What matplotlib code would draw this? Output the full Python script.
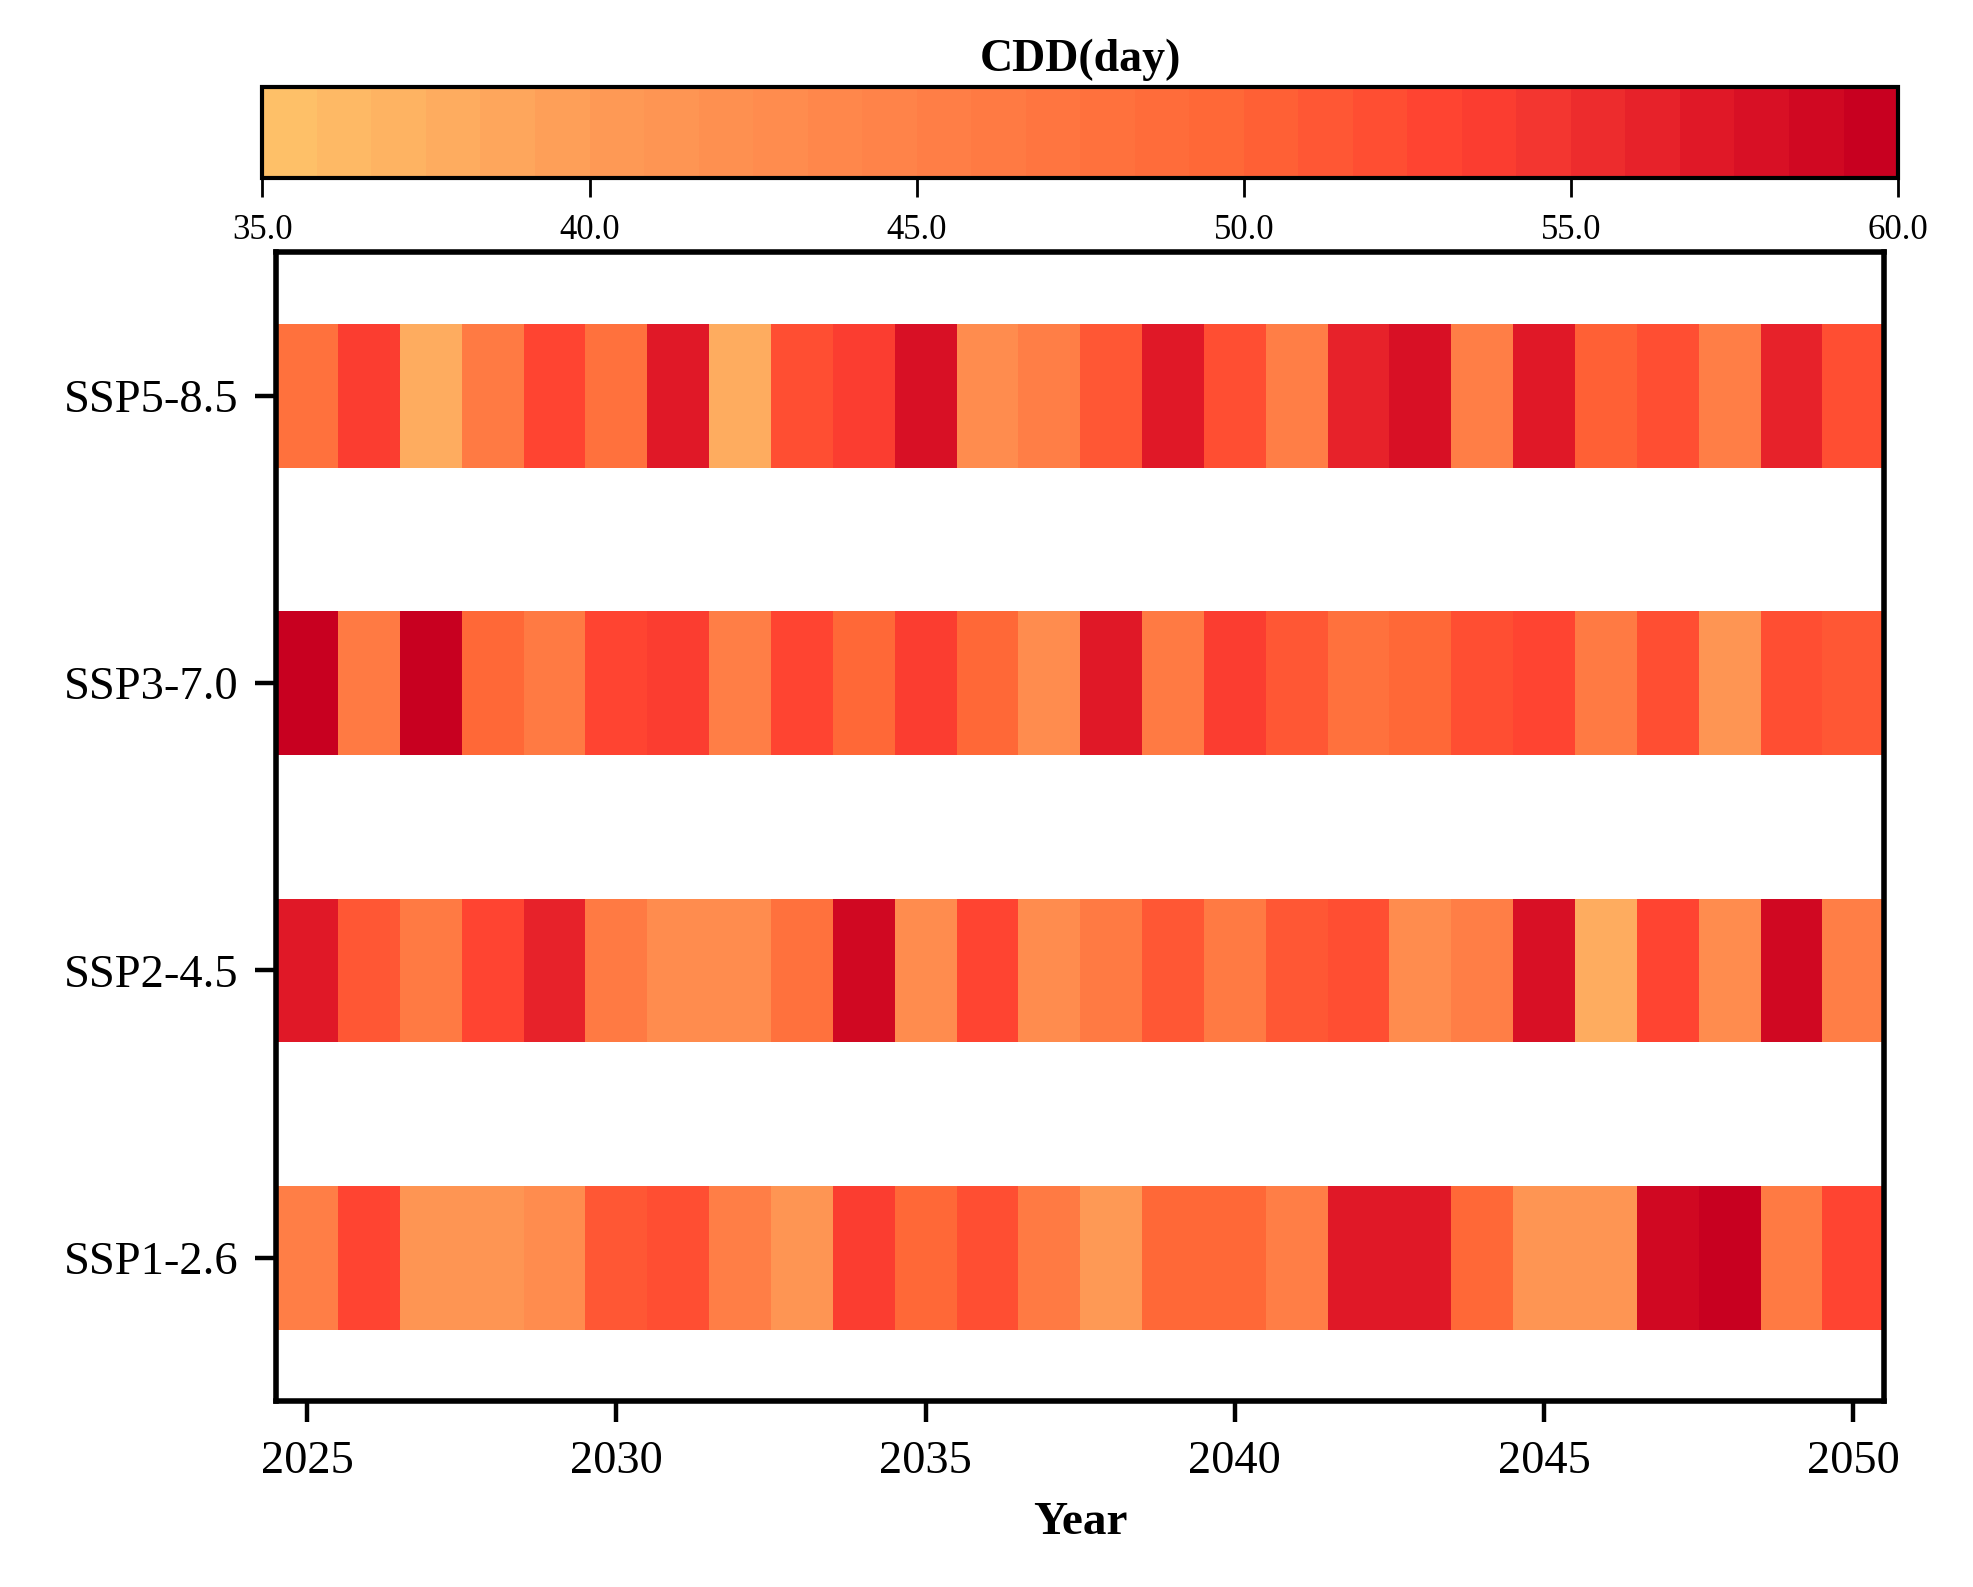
import numpy as np
import matplotlib
matplotlib.use("Agg")
from matplotlib import pyplot as plt
from matplotlib.colors import LinearSegmentedColormap, Normalize

plt.rcParams['font.family'] = ['Liberation Serif', 'DejaVu Serif']

years = np.arange(2025, 2051)
scenarios = ['SSP1-2.6', 'SSP2-4.5', 'SSP3-7.0', 'SSP5-8.5']

# CDD values (day), 2025..2050
ssp126 = [45, 53, 41, 41.5, 42.5, 51, 52, 45, 41.5, 54, 49.5, 52, 46, 40.5,
          49.5, 49.5, 45, 57, 57, 49.5, 41, 41, 58.8, 59.5, 46, 53]
ssp245 = [57, 51, 46.5, 53, 56, 46.5, 42.5, 42.5, 48, 58.8, 42.5, 53, 42.5, 46.5,
          51, 46, 51, 52, 42.5, 45.5, 58, 37.5, 53, 42.5, 58.8, 45]
ssp370 = [59.5, 46, 59.5, 49.5, 46.5, 53, 54, 45, 53, 49.5, 54, 49.5, 42.5, 57,
          46, 54, 51, 47.5, 49.5, 52, 53, 46.5, 52, 41, 52, 51]
ssp585 = [48, 54, 37.5, 46.5, 53, 48, 57, 37.5, 52, 54, 58, 43, 45, 51,
          57, 52, 45, 56, 58, 45, 57, 50.5, 52, 45, 56, 52]
data = [ssp126, ssp245, ssp370, ssp585]

cbar_ticks = [35, 40, 45, 50, 55, 60]

# colour ramp sampled from the colour bar (30 steps)
cmap = LinearSegmentedColormap.from_list(
    'cdd', [(0.0, '#FEC068'), (0.2, '#FE9A56'), (0.4, '#FF8047'),
            (0.6, '#FF6636'), (0.74, '#FF4030'), (0.8, '#F23530'),
            (0.88, '#E41C28'), (1.0, '#C80020')], N=30)
norm = Normalize(vmin=35, vmax=60)

fig = plt.figure(figsize=(19.73, 15.87), dpi=100)
ax = fig.add_axes([0.140, 0.117, 0.815, 0.724])

xedges = np.append(years - 0.5, years[-1] + 0.5)
for i, vals in enumerate(data):
    mesh = ax.pcolormesh(xedges, [i - 0.25, i + 0.25], np.array([vals]),
                         cmap=cmap, norm=norm, shading='flat')

ax.set_xlim(2024.5, 2050.5)
ax.set_ylim(-0.5, 3.5)
ax.set_xticks(np.arange(2025, 2051, 5))
ax.set_yticks(range(len(scenarios)))
ax.set_yticklabels(scenarios)
ax.tick_params(axis='both', labelsize=33.5, length=15, width=3.2, pad=12)
ax.tick_params(axis='x', pad=13)
for sp in ax.spines.values():
    sp.set_linewidth(4)
ax.set_xlabel('Year', fontsize=34, fontweight='bold', labelpad=14)

cax = fig.add_axes([0.133, 0.888, 0.829, 0.057])
cb = fig.colorbar(mesh, cax=cax, orientation='horizontal', ticks=cbar_ticks)
cb.ax.set_xticklabels(['%.1f' % t for t in cbar_ticks])
cb.ax.tick_params(labelsize=25, length=14, width=2, pad=12)
cb.outline.set_linewidth(3)
cax.set_title('CDD(day)', fontsize=33, fontweight='bold', pad=12)

fig.savefig('out.png', dpi=100)
